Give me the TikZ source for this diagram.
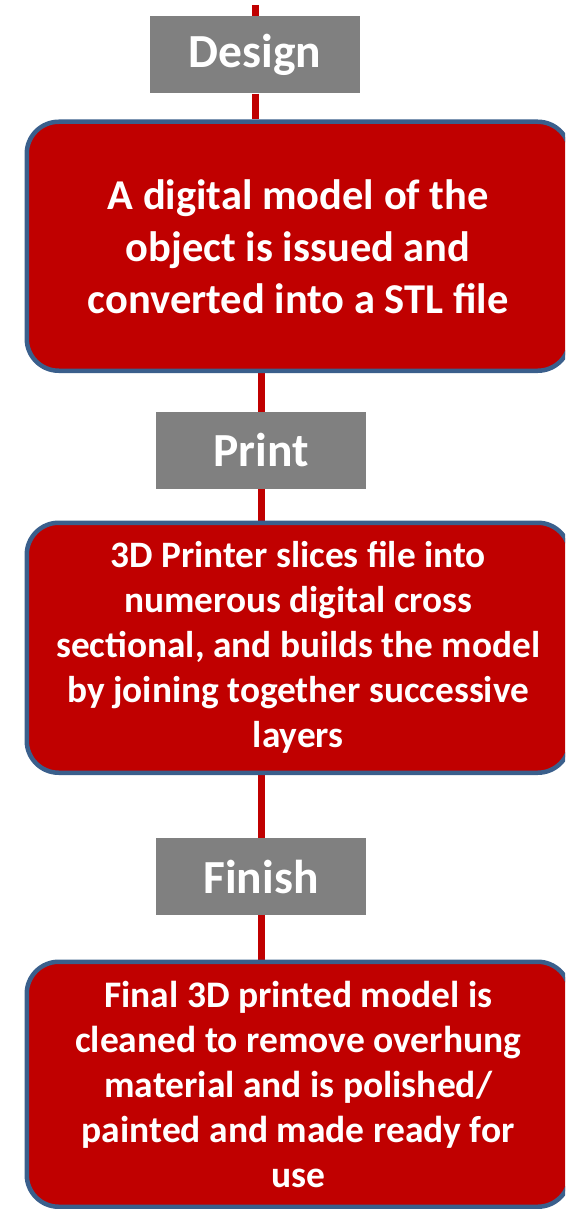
\documentclass[tikz,border=0pt]{standalone}
\usepackage{fontspec}
\setmainfont{Carlito}
\usetikzlibrary{backgrounds}
\definecolor{stepred}{HTML}{C00000}
\definecolor{stepedge}{HTML}{3A5F8C}
\definecolor{taggray}{HTML}{808080}
\begin{document}
\begin{tikzpicture}[x=1pt,y=-1pt,
  stage/.style={draw=stepedge,line width=4.5pt,fill=stepred,rounded corners=32pt,
    minimum width=543pt,anchor=north west,inner sep=0pt,align=center,
    text=white,font=\bfseries},
  tag/.style={fill=taggray,minimum width=210pt,minimum height=77pt,inner sep=0pt,
    text=white,font=\fontsize{47.5}{50}\selectfont\bfseries},
  link/.style={draw=stepred,line width=7pt}]
\useasboundingbox (0,0) rectangle (565,1209);
\clip (0,0) rectangle (565,1209);

\coordinate (start) at (255,5);

% process steps (their right edges run just past the page)
\node[stage,minimum height=249pt,font=\fontsize{42.5}{52}\selectfont\bfseries] (model) at (24.5,119.5)
  {A digital model of the\\ object is issued and\\ converted into a STL file};
\node[stage,minimum height=250pt,font=\fontsize{37.3}{45}\selectfont\bfseries] (printing) at (24.5,520.5)
  {3D Printer slices file into\\ numerous digital cross\\ sectional, and builds the model\\ by joining together successive\\ layers};
\node[stage,minimum height=245pt,font=\fontsize{37.5}{45}\selectfont\bfseries] (cleanup) at (24.5,959.5)
  {Final 3D printed model is\\ cleaned to remove overhung\\ material and is polished/\\ painted and made ready for\\ use};

% stage tags
\node[tag] (design) at (255,55) {Design};
\node[tag] (print) at (261,450.5) {Print};
\node[tag] (finish) at (261,876.5) {Finish};

% connectors, drawn behind everything
\begin{scope}[on background layer]
\draw[link] (start) -- (design);
\draw[link] (design) -- (design |- model.north);
\draw[link] (print |- model.south) -- (print);
\draw[link] (print) -- (print |- printing.north);
\draw[link] (finish |- printing.south) -- (finish);
\draw[link] (finish) -- (finish |- cleanup.north);
\end{scope}
\end{tikzpicture}
\end{document}
